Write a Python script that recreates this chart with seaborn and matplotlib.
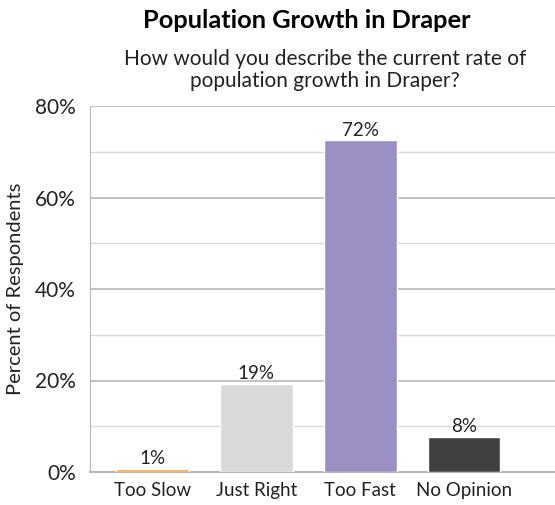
import matplotlib
matplotlib.use('Agg')
import matplotlib.pyplot as plt
import seaborn as sns
import pandas as pd
from matplotlib.ticker import MultipleLocator, PercentFormatter

# data
categories = ['Too Slow', 'Just Right', 'Too Fast', 'No Opinion']
values = [0.7, 19.3, 72.5, 7.7]
labels = ['1%', '19%', '72%', '8%']
colors = ['#F4A742', '#D9D9D9', '#9B8FC3', '#404040']

df = pd.DataFrame({'category': categories, 'value': values})

sns.set_style('white')
plt.rcParams['font.family'] = ['Lato', 'DejaVu Sans']

fig = plt.figure(figsize=(5.55, 5.05), dpi=100)
ax = fig.add_axes([90 / 555, 1 - 472 / 505, 465 / 555, 366 / 505])

sns.barplot(data=df, x='category', y='value', hue='category', palette=colors,
            width=0.70, legend=False, ax=ax, saturation=1)
for p in ax.patches:
    p.set_zorder(5)

for i, (v, lab) in enumerate(zip(values, labels)):
    ax.text(i, v + 0.3, lab, ha='center', va='bottom', fontsize=13.5, color='#222222')

ax.set_ylim(0, 80)
ax.set_xlim(-0.6, 3.875)
ax.yaxis.set_major_locator(MultipleLocator(20))
ax.yaxis.set_minor_locator(MultipleLocator(10))
ax.yaxis.set_major_formatter(PercentFormatter(decimals=0))
ax.grid(axis='y', which='major', color='#B8B8B8', linewidth=1.2)
ax.grid(axis='y', which='minor', color='#DADADA', linewidth=1.0)
ax.set_axisbelow(True)
for s in ['top', 'right']:
    ax.spines[s].set_visible(False)
ax.spines['left'].set_color('#B8B8B8')
ax.spines['bottom'].set_color('#B8B8B8')
ax.spines['bottom'].set_linewidth(1.5)
ax.spines['bottom'].set_zorder(2)
ax.tick_params(axis='y', which='both', length=0, labelsize=15, colors='#222222', pad=10)
ax.tick_params(axis='x', which='both', length=0, labelsize=13.5, colors='#222222', pad=7)
ax.set_xlabel('')
ax.set_ylabel('Percent of Respondents', fontsize=14.5, color='#222222', labelpad=8)

fig.text(307 / 555, 1 - 20 / 505, 'Population Growth in Draper', ha='center', va='center',
         fontsize=18.3, fontweight='bold', color='black')
fig.text(325 / 555, 1 - 70 / 505, 'How would you describe the current rate of\npopulation growth in Draper?',
         ha='center', va='center', fontsize=15, color='#222222', linespacing=1.15)

fig.savefig('out.png', dpi=100)
